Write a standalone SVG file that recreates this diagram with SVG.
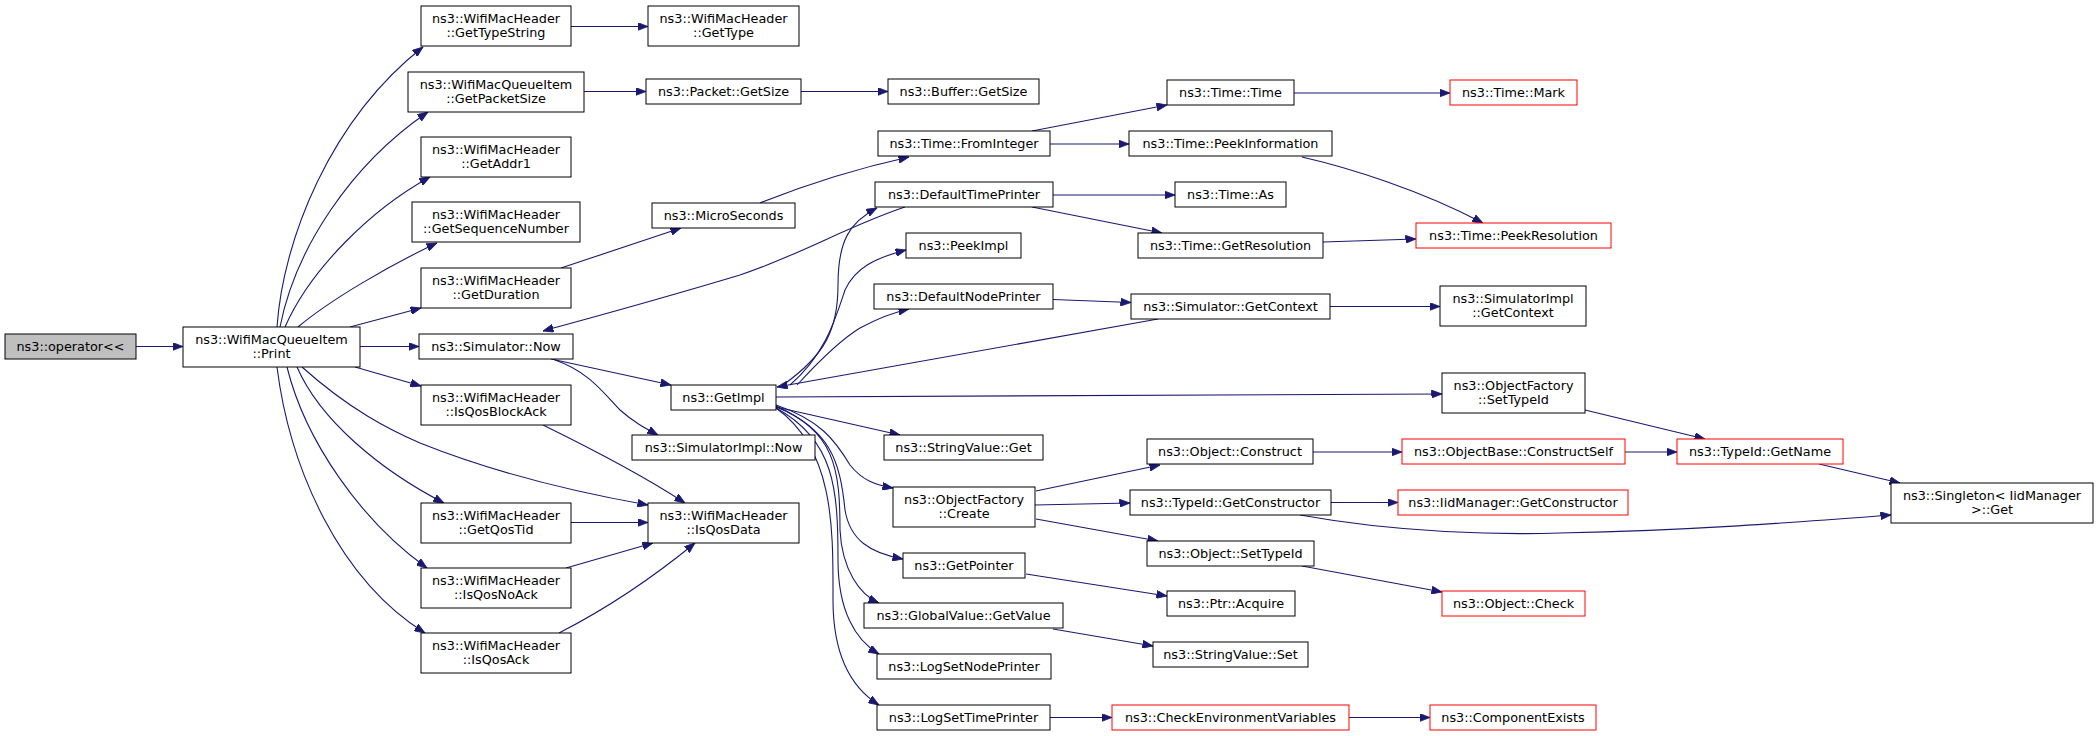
<svg xmlns="http://www.w3.org/2000/svg" width="2099" height="736" viewBox="0 0 2099 736">
<style>
.n rect{fill:#ffffff;stroke:#000000;stroke-width:1}
.n.r rect{stroke:#ff0000}
.n.g rect{fill:#bfbfbf}
.n text{font-family:"DejaVu Sans","Liberation Sans",sans-serif;font-size:12.8px;fill:#000000;text-anchor:middle}
#edges path{fill:none;stroke:#191970;stroke-width:1.1;marker-end:url(#ah)}
</style>
<defs>
<marker id="ah" markerUnits="userSpaceOnUse" markerWidth="11" markerHeight="8" refX="10.5" refY="4" orient="auto">
<path d="M0,0 L10.5,4 L0,8 z" fill="#191970" stroke="#191970" stroke-width="0.8"/>
</marker>
</defs>
<rect x="0" y="0" width="2099" height="736" fill="#ffffff"/>
<g id="edges">
<path d="M136,346.5 L183,346.5"/>
<path d="M277,327 C283,240 330,120 423,47"/>
<path d="M280,327 C295,250 350,165 428,112"/>
<path d="M285,327 C310,270 370,210 430,177"/>
<path d="M298,327 C330,300 390,265 437,243"/>
<path d="M350,327 L421,308"/>
<path d="M360,346.5 L419,346.5"/>
<path d="M355,367 L421,386"/>
<path d="M297,367 C320,420 380,470 444,503"/>
<path d="M287,367 C305,440 360,520 427,568"/>
<path d="M277,367 C290,470 340,580 425,633"/>
<path d="M302,367 C350,410 390,430 420,443 C500,475 580,493 648,505"/>
<path d="M543,425 C600,453 650,480 685,503"/>
<path d="M571,522.5 L648,522.5"/>
<path d="M566,568 L653,543"/>
<path d="M559,633 C600,612 650,580 695,543"/>
<path d="M571,26.5 L648,26.5"/>
<path d="M584,91.5 L646,91.5"/>
<path d="M801,91.5 L888,91.5"/>
<path d="M561,268 L681,228"/>
<path d="M760,203 C800,187 850,170 909,157"/>
<path d="M1032,131 L1167,105"/>
<path d="M1050,144 L1129,144"/>
<path d="M1294,93 L1450,93"/>
<path d="M1302,157 C1350,168 1420,190 1483,223"/>
<path d="M1053,195 L1175,195"/>
<path d="M1032,207 L1162,233"/>
<path d="M1323,242 L1416,239"/>
<path d="M905,207 C850,225 800,255 740,275 C650,302 590,318 543,331"/>
<path d="M551,359 L671,385"/>
<path d="M555,360 C590,372 605,395 620,410 C635,423 645,428 658,435"/>
<path d="M783,385 C825,355 838,330 838,285 C838,240 850,222 877,208"/>
<path d="M790,385 C825,355 835,320 845,290 C855,268 875,258 906,250"/>
<path d="M797,385 C820,360 840,340 860,328 C875,320 890,313 909,309"/>
<path d="M1158,319 L777,387"/>
<path d="M1053,299.5 L1131,302.5"/>
<path d="M1330,306.5 L1440,306.5"/>
<path d="M776,397 L1442,394"/>
<path d="M776,407 L900,435"/>
<path d="M776,405 C820,420 835,440 850,465 C862,480 875,485 893,488"/>
<path d="M776,406 C830,430 840,460 845,510 C850,540 870,553 903,559"/>
<path d="M776,407 C835,430 840,470 840,530 C842,570 860,595 879,603"/>
<path d="M776,408 C835,440 838,490 838,560 C838,610 855,640 879,654"/>
<path d="M776,408 C835,450 833,530 833,600 C833,660 855,690 879,705"/>
<path d="M1036,491 L1160,465"/>
<path d="M1035,505 L1130,503"/>
<path d="M1036,519 L1158,541"/>
<path d="M1313,452 L1402,452"/>
<path d="M1625,452 L1677,452"/>
<path d="M1585,410 L1705,439"/>
<path d="M1819,464 L1900,483"/>
<path d="M1300,515 C1400,533 1500,535 1560,533 C1700,530 1800,522 1891,515"/>
<path d="M1331,502.5 L1398,502.5"/>
<path d="M1302,566 L1442,592"/>
<path d="M1026,574 L1167,596"/>
<path d="M1053,629 L1153,646"/>
<path d="M1050,717.5 L1112,717.5"/>
<path d="M1349,717.5 L1430,717.5"/>
</g>
<g id="n0" class="n g"><rect x="5" y="334" width="131" height="25"/><text x="70.5" y="351">ns3::operator&lt;&lt;</text></g>
<g id="n1" class="n"><rect x="183" y="327" width="177" height="40"/><text x="271.5" y="343.5">ns3::WifiMacQueueItem</text><text x="271.5" y="357.5">::Print</text></g>
<g id="n2" class="n"><rect x="421" y="6" width="150" height="40"/><text x="496" y="22.5">ns3::WifiMacHeader</text><text x="496" y="36.5">::GetTypeString</text></g>
<g id="n3" class="n"><rect x="408" y="72" width="176" height="40"/><text x="496" y="88.5">ns3::WifiMacQueueItem</text><text x="496" y="102.5">::GetPacketSize</text></g>
<g id="n4" class="n"><rect x="421" y="137" width="150" height="40"/><text x="496" y="153.5">ns3::WifiMacHeader</text><text x="496" y="167.5">::GetAddr1</text></g>
<g id="n5" class="n"><rect x="412" y="202" width="168" height="40"/><text x="496" y="218.5">ns3::WifiMacHeader</text><text x="496" y="232.5">::GetSequenceNumber</text></g>
<g id="n6" class="n"><rect x="421" y="268" width="150" height="40"/><text x="496" y="284.5">ns3::WifiMacHeader</text><text x="496" y="298.5">::GetDuration</text></g>
<g id="n7" class="n"><rect x="419" y="334" width="154" height="25"/><text x="496" y="351">ns3::Simulator::Now</text></g>
<g id="n8" class="n"><rect x="421" y="385" width="150" height="40"/><text x="496" y="401.5">ns3::WifiMacHeader</text><text x="496" y="415.5">::IsQosBlockAck</text></g>
<g id="n9" class="n"><rect x="421" y="503" width="150" height="40"/><text x="496" y="519.5">ns3::WifiMacHeader</text><text x="496" y="533.5">::GetQosTid</text></g>
<g id="n10" class="n"><rect x="421" y="568" width="150" height="40"/><text x="496" y="584.5">ns3::WifiMacHeader</text><text x="496" y="598.5">::IsQosNoAck</text></g>
<g id="n11" class="n"><rect x="421" y="633" width="150" height="40"/><text x="496" y="649.5">ns3::WifiMacHeader</text><text x="496" y="663.5">::IsQosAck</text></g>
<g id="n12" class="n"><rect x="648" y="6" width="151" height="40"/><text x="723.5" y="22.5">ns3::WifiMacHeader</text><text x="723.5" y="36.5">::GetType</text></g>
<g id="n13" class="n"><rect x="646" y="79" width="155" height="25"/><text x="723.5" y="96">ns3::Packet::GetSize</text></g>
<g id="n14" class="n"><rect x="888" y="79" width="151" height="25"/><text x="963.5" y="96">ns3::Buffer::GetSize</text></g>
<g id="n15" class="n"><rect x="652" y="203" width="143" height="25"/><text x="723.5" y="220">ns3::MicroSeconds</text></g>
<g id="n16" class="n"><rect x="671" y="385" width="105" height="25"/><text x="723.5" y="402">ns3::GetImpl</text></g>
<g id="n17" class="n"><rect x="632" y="435" width="183" height="25"/><text x="723.5" y="452">ns3::SimulatorImpl::Now</text></g>
<g id="n18" class="n"><rect x="648" y="503" width="151" height="40"/><text x="723.5" y="519.5">ns3::WifiMacHeader</text><text x="723.5" y="533.5">::IsQosData</text></g>
<g id="n19" class="n"><rect x="878" y="131" width="172" height="25"/><text x="964" y="148">ns3::Time::FromInteger</text></g>
<g id="n20" class="n"><rect x="875" y="182" width="178" height="25"/><text x="964" y="199">ns3::DefaultTimePrinter</text></g>
<g id="n21" class="n"><rect x="906" y="233" width="115" height="25"/><text x="963.5" y="250">ns3::PeekImpl</text></g>
<g id="n22" class="n"><rect x="874" y="284" width="179" height="25"/><text x="963.5" y="301">ns3::DefaultNodePrinter</text></g>
<g id="n23" class="n"><rect x="884" y="435" width="159" height="25"/><text x="963.5" y="452">ns3::StringValue::Get</text></g>
<g id="n24" class="n"><rect x="893" y="487" width="142" height="40"/><text x="964" y="503.5">ns3::ObjectFactory</text><text x="964" y="517.5">::Create</text></g>
<g id="n25" class="n"><rect x="903" y="553" width="122" height="25"/><text x="964" y="570">ns3::GetPointer</text></g>
<g id="n26" class="n"><rect x="864" y="603" width="199" height="25"/><text x="963.5" y="620">ns3::GlobalValue::GetValue</text></g>
<g id="n27" class="n"><rect x="877" y="654" width="174" height="25"/><text x="964" y="671">ns3::LogSetNodePrinter</text></g>
<g id="n28" class="n"><rect x="877" y="705" width="173" height="25"/><text x="963.5" y="722">ns3::LogSetTimePrinter</text></g>
<g id="n29" class="n"><rect x="1167" y="80" width="127" height="25"/><text x="1230.5" y="97">ns3::Time::Time</text></g>
<g id="n30" class="n"><rect x="1129" y="131" width="203" height="25"/><text x="1230.5" y="148">ns3::Time::PeekInformation</text></g>
<g id="n31" class="n"><rect x="1175" y="182" width="111" height="25"/><text x="1230.5" y="199">ns3::Time::As</text></g>
<g id="n32" class="n"><rect x="1138" y="233" width="185" height="25"/><text x="1230.5" y="250">ns3::Time::GetResolution</text></g>
<g id="n33" class="n"><rect x="1131" y="294" width="199" height="25"/><text x="1230.5" y="311">ns3::Simulator::GetContext</text></g>
<g id="n34" class="n"><rect x="1442" y="373" width="143" height="40"/><text x="1513.5" y="389.5">ns3::ObjectFactory</text><text x="1513.5" y="403.5">::SetTypeId</text></g>
<g id="n35" class="n"><rect x="1147" y="439" width="166" height="25"/><text x="1230" y="456">ns3::Object::Construct</text></g>
<g id="n36" class="n"><rect x="1130" y="490" width="201" height="25"/><text x="1230.5" y="507">ns3::TypeId::GetConstructor</text></g>
<g id="n37" class="n"><rect x="1147" y="541" width="167" height="25"/><text x="1230.5" y="558">ns3::Object::SetTypeId</text></g>
<g id="n38" class="n"><rect x="1167" y="591" width="128" height="25"/><text x="1231" y="608">ns3::Ptr::Acquire</text></g>
<g id="n39" class="n"><rect x="1153" y="642" width="155" height="25"/><text x="1230.5" y="659">ns3::StringValue::Set</text></g>
<g id="n40" class="n r"><rect x="1112" y="705" width="237" height="25"/><text x="1230.5" y="722">ns3::CheckEnvironmentVariables</text></g>
<g id="n41" class="n r"><rect x="1450" y="80" width="127" height="25"/><text x="1513.5" y="97">ns3::Time::Mark</text></g>
<g id="n42" class="n r"><rect x="1416" y="223" width="195" height="25"/><text x="1513.5" y="240">ns3::Time::PeekResolution</text></g>
<g id="n43" class="n"><rect x="1440" y="286" width="146" height="40"/><text x="1513" y="302.5">ns3::SimulatorImpl</text><text x="1513" y="316.5">::GetContext</text></g>
<g id="n44" class="n r"><rect x="1402" y="439" width="223" height="25"/><text x="1513.5" y="456">ns3::ObjectBase::ConstructSelf</text></g>
<g id="n45" class="n r"><rect x="1398" y="490" width="230" height="25"/><text x="1513" y="507">ns3::IidManager::GetConstructor</text></g>
<g id="n46" class="n r"><rect x="1442" y="591" width="143" height="25"/><text x="1513.5" y="608">ns3::Object::Check</text></g>
<g id="n47" class="n r"><rect x="1430" y="705" width="166" height="25"/><text x="1513" y="722">ns3::ComponentExists</text></g>
<g id="n48" class="n r"><rect x="1677" y="439" width="166" height="25"/><text x="1760" y="456">ns3::TypeId::GetName</text></g>
<g id="n49" class="n"><rect x="1891" y="483" width="202" height="40"/><text x="1992" y="499.5">ns3::Singleton&lt; IidManager</text><text x="1992" y="513.5">&gt;::Get</text></g>
</svg>
